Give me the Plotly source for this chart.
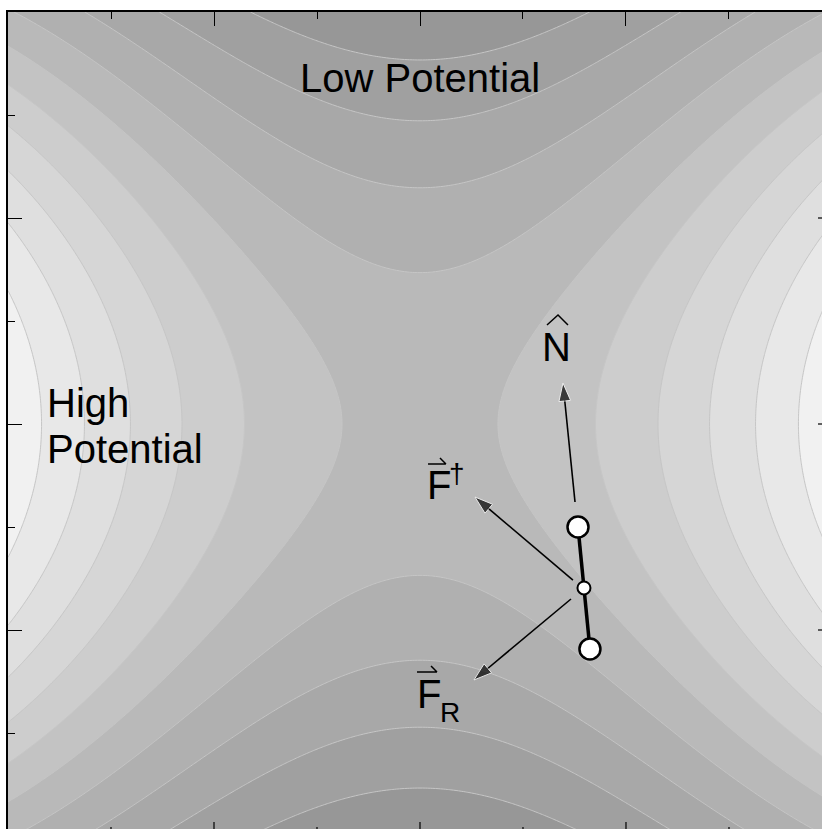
import numpy as np
import plotly.graph_objects as go

# ---- potential surface (coefficients estimated from contour crossings) ----
coef_x2 = 1.0
coef_x4 = -0.00905
coef_y2 = -0.8023
coef_y4 = 0.01005
coef_x2y2 = -0.0192
level_start = -10.71
level_size = 2.256
level_end = 14.11
band_colors = ['#909090', '#979797', '#a0a0a0', '#a8a8a8', '#b0b0b0', '#b9b9b9',
               '#c3c3c3', '#cdcdcd', '#d6d6d6', '#dfdfdf', '#e8e8e8', '#f1f1f1', '#f8f8f8']
contour_line_color = '#c6c6c6'

# full frame is [-4, 4] x [-4, 4]; the picture is cut at the right and bottom
x_full = [-4, 4]
y_full = [-4, 4]
x_view = [-4, 3.903]
y_view = [-3.932, 4]
major_ticks = [-2, 0, 2]
minor_ticks = [-3, -1, 1, 3]

# ---- dimer and force vectors (data coordinates) ----
dimer_x = [1.534, 1.650]
dimer_y = [-1.000, -2.184]
dimer_mid_x = [1.592]
dimer_mid_y = [-1.592]
n_arrow_x = [1.505, 1.388]
n_arrow_y = [-0.757, 0.398]
fdag_arrow_x = [1.485, 0.534]
fdag_arrow_y = [-1.515, -0.709]
fr_arrow_x = [1.466, 0.524]
fr_arrow_y = [-1.699, -2.485]

gx = np.linspace(x_full[0], x_full[1], 321)
gy = np.linspace(y_full[0], y_full[1], 321)
XX, YY = np.meshgrid(gx, gy)
Z = (coef_x2 * XX**2 + coef_x4 * XX**4 + coef_y2 * YY**2 + coef_y4 * YY**4
     + coef_x2y2 * XX**2 * YY**2)

n_colors = len(band_colors)
colorscale = [[i / (n_colors - 1), c] for i, c in enumerate(band_colors)]

fig = go.Figure()
fig.add_trace(go.Contour(
    x=gx, y=gy, z=Z,
    autocontour=False,
    contours=dict(start=level_start, end=level_end, size=level_size, coloring='fill'),
    colorscale=colorscale, showscale=False,
    line=dict(color=contour_line_color, width=1),
    hoverinfo='skip'))

arrow_style = dict(mode='lines+markers', line=dict(color='black', width=1.6),
                   marker=dict(symbol=['circle', 'arrow'], size=[0, 19], color='black',
                               angleref='previous'),
                   hoverinfo='skip', showlegend=False)
for ax_, ay_ in [(n_arrow_x, n_arrow_y), (fdag_arrow_x, fdag_arrow_y), (fr_arrow_x, fr_arrow_y)]:
    fig.add_trace(go.Scatter(x=ax_, y=ay_, **arrow_style))

fig.add_trace(go.Scatter(x=dimer_x, y=dimer_y, mode='lines+markers',
                         line=dict(color='black', width=3.5),
                         marker=dict(size=21, color='white', line=dict(color='black', width=2.5)),
                         hoverinfo='skip', showlegend=False))
fig.add_trace(go.Scatter(x=dimer_mid_x, y=dimer_mid_y, mode='markers',
                         marker=dict(size=13, color='white', line=dict(color='black', width=2)),
                         hoverinfo='skip', showlegend=False))

fam = 'Liberation Sans, Arial, sans-serif'
big = dict(family=fam, size=40, color='black')
small = dict(family=fam, size=28, color='black')
annos = [
    dict(x=0, y=3.36, text='Low Potential', xanchor='center', font=big),
    dict(x=-3.641, y=0.204, text='High', xanchor='left', font=big),
    dict(x=-3.641, y=-0.243, text='Potential', xanchor='left', font=big),
    dict(x=1.330, y=0.748, text='N', xanchor='center', font=big),
    dict(x=0.049, y=-0.595, text='F', xanchor='left', font=big),
    dict(x=0.364, y=-0.481, text='†', xanchor='center', font=small),
    dict(x=-0.049, y=-2.625, text='F', xanchor='left', font=big),
    dict(x=0.291, y=-2.801, text='R', xanchor='center', font=small),
]
for a in annos:
    fig.add_annotation(xref='x', yref='y', showarrow=False, yanchor='middle', **a)

# hat and vector harpoons drawn as thin paths
shape_line = dict(color='black', width=1.5)
fig.add_shape(type='path', xref='x', yref='y', line=shape_line,
              path='M1.233,0.961 L1.340,1.058 L1.437,0.961')
fig.add_shape(type='path', xref='x', yref='y', line=shape_line,
              path='M0.078,-0.388 L0.252,-0.388 M0.194,-0.330 L0.252,-0.388')
fig.add_shape(type='path', xref='x', yref='y', line=shape_line,
              path='M-0.029,-2.408 L0.165,-2.408 M0.107,-2.350 L0.165,-2.408')

# visible stubs of the bottom / right ticks (the frame itself lies outside the picture)
tick_line = dict(color='black', width=1.2)
for t in major_ticks:
    fig.add_shape(type='line', xref='x', yref='paper', ysizemode='pixel', yanchor=0,
                  x0=t, x1=t, y0=0, y1=7, line=tick_line)
    fig.add_shape(type='line', xref='paper', yref='y', xsizemode='pixel', xanchor=1,
                  x0=0, x1=-4, y0=t, y1=t, line=tick_line)
for t in minor_ticks:
    fig.add_shape(type='line', xref='x', yref='paper', ysizemode='pixel', yanchor=0,
                  x0=t, x1=t, y0=0, y1=2, line=tick_line)

axis_common = dict(showgrid=False, zeroline=False, showline=True, linecolor='black', linewidth=2,
                   ticks='inside', ticklen=14, tickwidth=1.2, tickcolor='black',
                   tick0=0, dtick=2, showticklabels=False, mirror=False,
                   minor=dict(ticks='inside', ticklen=7, tickwidth=1.2, tickcolor='black', dtick=1))
fig.update_xaxes(range=x_view, side='top', **axis_common)
fig.update_yaxes(range=y_view, side='left', **axis_common)
fig.update_layout(width=822, height=829, margin=dict(l=8, r=0, t=12, b=0),
                  paper_bgcolor='white', plot_bgcolor='white', showlegend=False)

fig.write_html("out.html", config={'displayModeBar': False},
               post_script="document.body.style.margin='0';document.body.style.overflow='hidden';"
                           "document.documentElement.style.overflow='hidden';")
